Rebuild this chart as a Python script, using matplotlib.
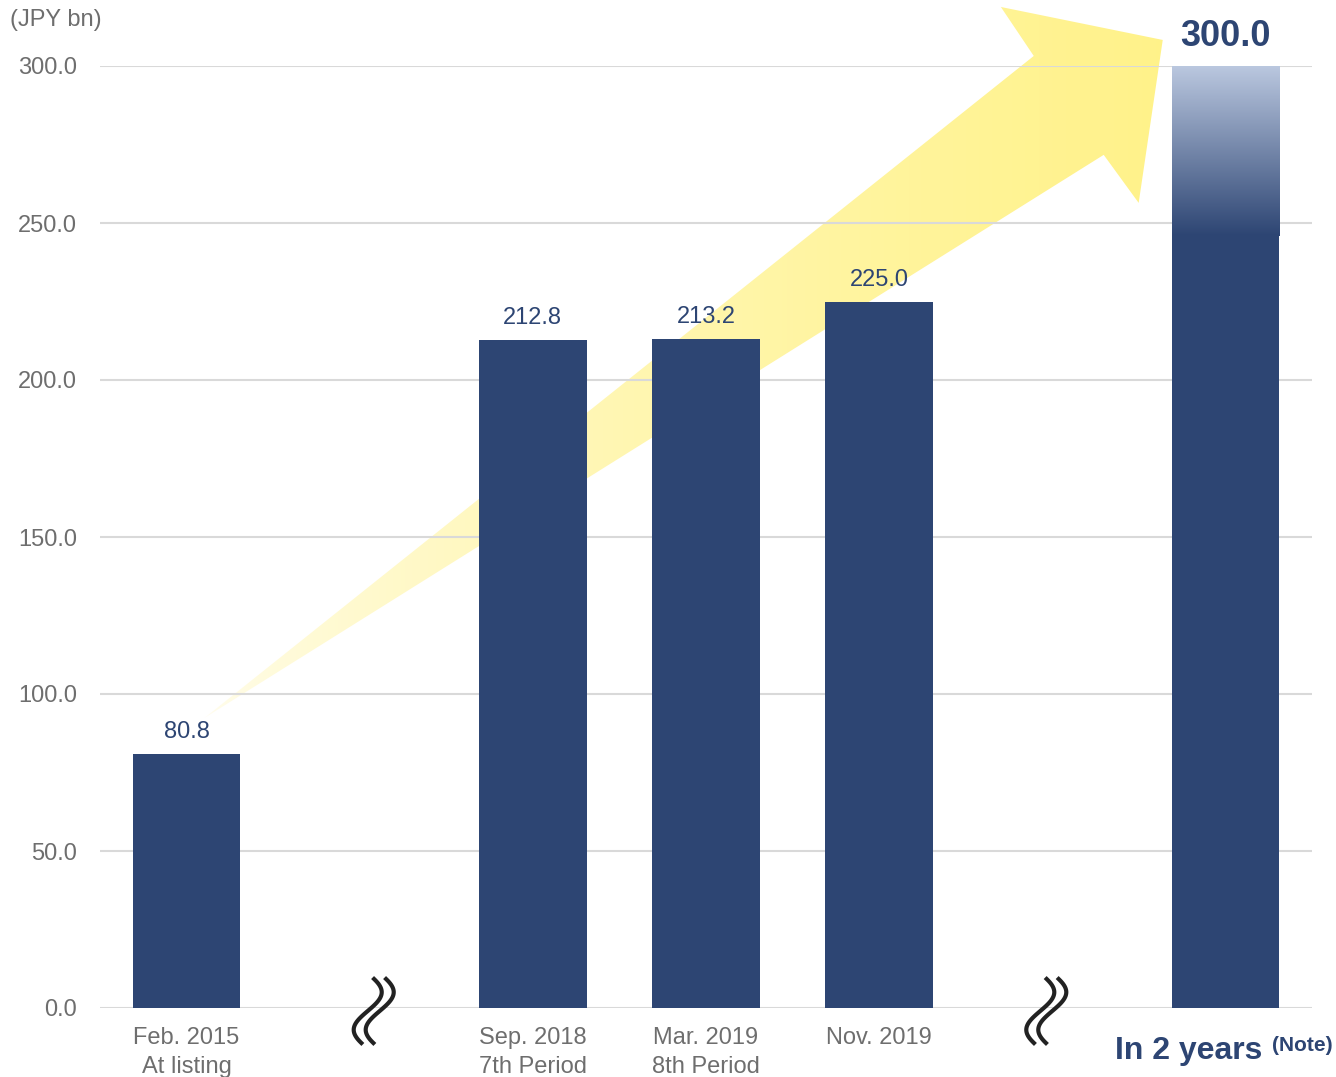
import matplotlib
matplotlib.use("Agg")
import matplotlib.pyplot as plt
import matplotlib.transforms as mtransforms
from matplotlib.patches import Polygon
import numpy as np

plt.rcParams['font.family'] = ['Liberation Sans', 'DejaVu Sans']

# asset size (JPY bn); None = gap slot where the axis is broken
labels = ["Feb. 2015\nAt listing", "", "Sep. 2018\n7th Period",
          "Mar. 2019\n8th Period", "Nov. 2019", "", ""]
values = [80.8, None, 212.8, 213.2, 225.0, None, 300.0]
target_label = "In 2 years"
target_note = "(Note)"
yticks = [0, 50, 100, 150, 200, 250, 300]

NAVY = "#2d4573"
GRAY = "#6e6e6e"
GRID = "#d9d9d9"
YELLOW = (1.0, 0.95, 0.54)

fig = plt.figure(figsize=(13.36, 10.77), dpi=100)
ax = fig.add_axes([100/1336, 1-1008/1077, 1212/1336, 942/1077])

slots = np.arange(len(values))
bar_x = [i for i, v in zip(slots, values) if v is not None]
bar_v = [v for v in values if v is not None]

for y in yticks:
    ax.axhline(y, color=GRID, lw=1.5, zorder=1)

bars = ax.bar(bar_x, bar_v, width=0.62, color=NAVY, zorder=2)

# fade the top of the target bar into a light blue
last = bars[-1]
bx0 = last.get_x()
bx1 = bx0 + last.get_width()
top = last.get_height()
t = np.linspace(0, 1, 200)[:, None, None]
dark = np.array(matplotlib.colors.to_rgb(NAVY))
light = np.array([0.75, 0.8, 0.89])
grad = dark + (light - dark) * t
fade = ax.imshow(grad, extent=[bx0 - 0.02, bx1 + 0.02, 246, top + 2], origin='lower',
                 aspect='auto', zorder=2.1, interpolation='bilinear')
fade.set_clip_path(last)

# big yellow growth arrow behind the bars, fading in from the tail
arrow_pts = [(0.104, 92.4), (4.893, 303.2), (4.703, 318.8),
             (5.638, 308.3), (5.499, 256.4), (5.297, 271.7)]
arrow = Polygon(arrow_pts, closed=True, transform=ax.transData)
ramp = np.linspace(0, 1, 300)
img = np.zeros((2, 300, 4))
img[..., :3] = YELLOW
img[..., 3] = 0.12 + 0.88 * ramp ** 0.6
im = ax.imshow(img, extent=[0.1, 5.65, 90, 320], origin='lower', aspect='auto',
               zorder=0.5, interpolation='bilinear')
im.set_clip_path(arrow)
im.set_clip_box(fig.bbox)


def draw_break(xpos, shift):
    trans = fig.dpi_scale_trans + mtransforms.ScaledTranslation(xpos, 0, ax.transData)
    s = np.linspace(-1, 1, 80)
    for off in (-6, 6):
        dx = (-14 * np.sin(0.85 * np.pi * s) + off + shift) / 100
        dy = -(3 + 32 * s) / 100
        ax.plot(dx, dy, color='#222222', lw=3, transform=trans,
                clip_on=False, zorder=3)


for i, v in zip(slots, values):
    if v is None:
        draw_break(i, 14 if i == 1 else -6)

# value labels
for x, v in zip(bar_x[:-1], bar_v[:-1]):
    ax.annotate(f"{v:.1f}", (x, v), xytext=(0, 11.5), textcoords='offset points',
                ha='center', va='baseline', fontsize=17, color=NAVY)
ax.annotate(f"{bar_v[-1]:.1f}", (bar_x[-1], bar_v[-1]), xytext=(0, 14.5),
            textcoords='offset points', ha='center', va='baseline',
            fontsize=26, fontweight='bold', color=NAVY)

ax.set_xlim(-0.5, 6.5)
ax.set_ylim(0, 300)
for sp in ax.spines.values():
    sp.set_visible(False)

ax.set_yticks(yticks)
ax.set_yticklabels([f"{v:.1f}" for v in yticks])
ax.set_xticks(slots)
ax.set_xticklabels(labels, linespacing=1.4)
ax.tick_params(axis='y', length=0, pad=16.5, labelsize=17, labelcolor=GRAY)
ax.tick_params(axis='x', length=0, pad=14, labelsize=17, labelcolor=GRAY)

# the target bar gets its own bold label
ax.annotate(target_label, (slots[-1], 0), xytext=(26.6, -36.7), textcoords='offset points',
            ha='right', va='baseline', fontsize=23, fontweight='bold', color=NAVY,
            annotation_clip=False)
ax.annotate(target_note, (slots[-1], 0), xytext=(33.8, -31), textcoords='offset points',
            ha='left', va='baseline', fontsize=15, fontweight='bold', color=NAVY,
            annotation_clip=False)

fig.text(10/1336, 1-20/1077, "(JPY bn)", ha='left', va='center', fontsize=17, color=GRAY)

fig.savefig("out.png", dpi=100)
